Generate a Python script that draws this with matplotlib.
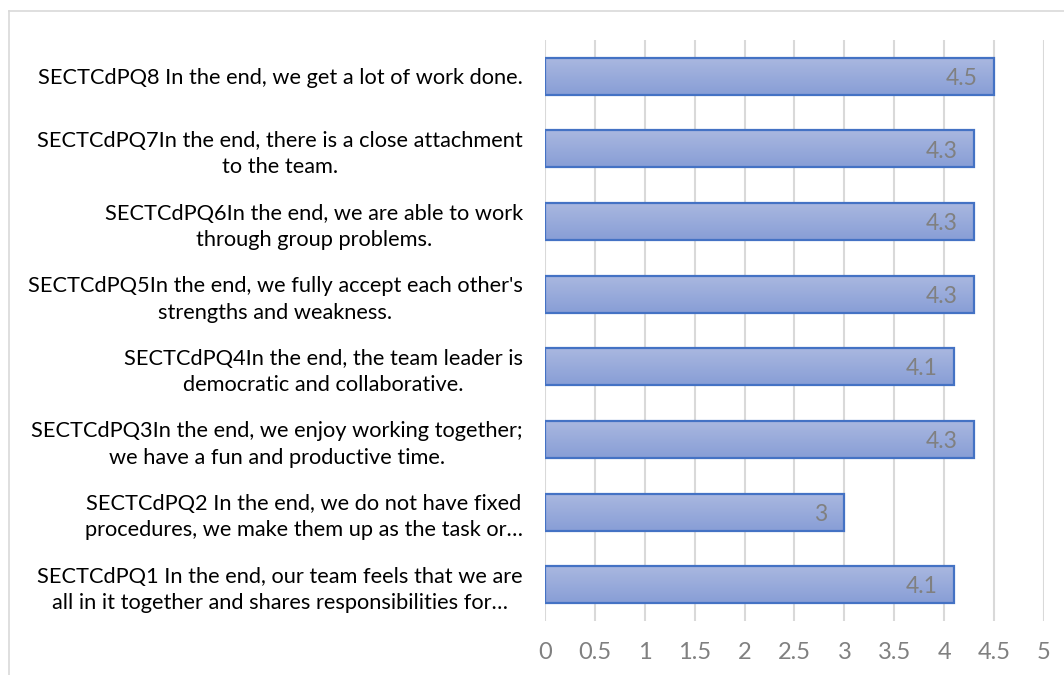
import numpy as np
import matplotlib.pyplot as plt
from matplotlib.lines import Line2D

# data, bottom to top
labels = [
    "SECTCdPQ1 In the end, our team feels that we are\nall in it together and shares responsibilities for\u2026",
    "SECTCdPQ2 In the end, we do not have fixed\nprocedures, we make them up as the task or\u2026",
    "SECTCdPQ3In the end, we enjoy working together;\nwe have a fun and productive time.",
    "SECTCdPQ4In the end, the team leader is\ndemocratic and collaborative.",
    "SECTCdPQ5In the end, we fully accept each other's\nstrengths and weakness.",
    "SECTCdPQ6In the end, we are able to work\nthrough group problems.",
    "SECTCdPQ7In the end, there is a close attachment\nto the team.",
    "SECTCdPQ8 In the end, we get a lot of work done.",
]
values = [4.1, 3, 4.3, 4.1, 4.3, 4.3, 4.3, 4.5]
xticks = [0, 0.5, 1, 1.5, 2, 2.5, 3, 3.5, 4, 4.5, 5]

plt.rcParams['font.family'] = ['Lato', 'DejaVu Sans']

fig = plt.figure(figsize=(10.64, 6.75), dpi=100)
ax = fig.add_axes([0.5122, 0.08, 0.469, 0.8607])

grid_col = '#D9D9D9'
edge_col = '#4472C4'
grad = np.linspace(0, 1, 64).reshape(-1, 1)
top_rgb = np.array([0xAA, 0xB8, 0xE0]) / 255
bot_rgb = np.array([0x88, 0x9E, 0xD6]) / 255
img = top_rgb[None, None, :] * (1 - grad[:, :, None]) + bot_rgb[None, None, :] * grad[:, :, None]

h = 0.51
y = np.arange(len(values))
for yi, v in zip(y, values):
    ax.imshow(img, extent=[0, v, yi - h / 2, yi + h / 2], aspect='auto',
              origin='upper', zorder=2, interpolation='bilinear')
ax.barh(y, values, height=h, facecolor='none', edgecolor=edge_col, linewidth=1.6, zorder=3)

for yi, v in zip(y, values):
    ax.annotate(f"{v:g}", (v, yi), xytext=(-12, -1.5), textcoords='offset points',
                ha='right', va='center', color='#808080', fontsize=16.5, zorder=4)

ax.set_xlim(0, 5)
ax.set_ylim(-0.5, len(values) - 0.5)
ax.set_xticks(xticks)
ax.set_xticklabels([f"{t:g}" for t in xticks], color='#808080', fontsize=17)
ax.set_yticks(y)
ax.set_yticklabels(labels, fontsize=15.7, color='black', multialignment='center',
                   linespacing=1.4)
ax.tick_params(axis='both', length=0)
ax.tick_params(axis='x', pad=15)
ax.tick_params(axis='y', pad=16)
ax.grid(axis='x', color=grid_col, linewidth=1.5, zorder=0)
ax.set_axisbelow(True)
for s in ax.spines.values():
    s.set_visible(False)

# chart frame (top and left edges visible)
fig.add_artist(Line2D([9 / 1064, 1.0], [1 - 11 / 675, 1 - 11 / 675], color=grid_col, lw=1.2))
fig.add_artist(Line2D([9 / 1064, 9 / 1064], [0, 1 - 11 / 675], color=grid_col, lw=1.2))

fig.savefig('out.png', dpi=100)
